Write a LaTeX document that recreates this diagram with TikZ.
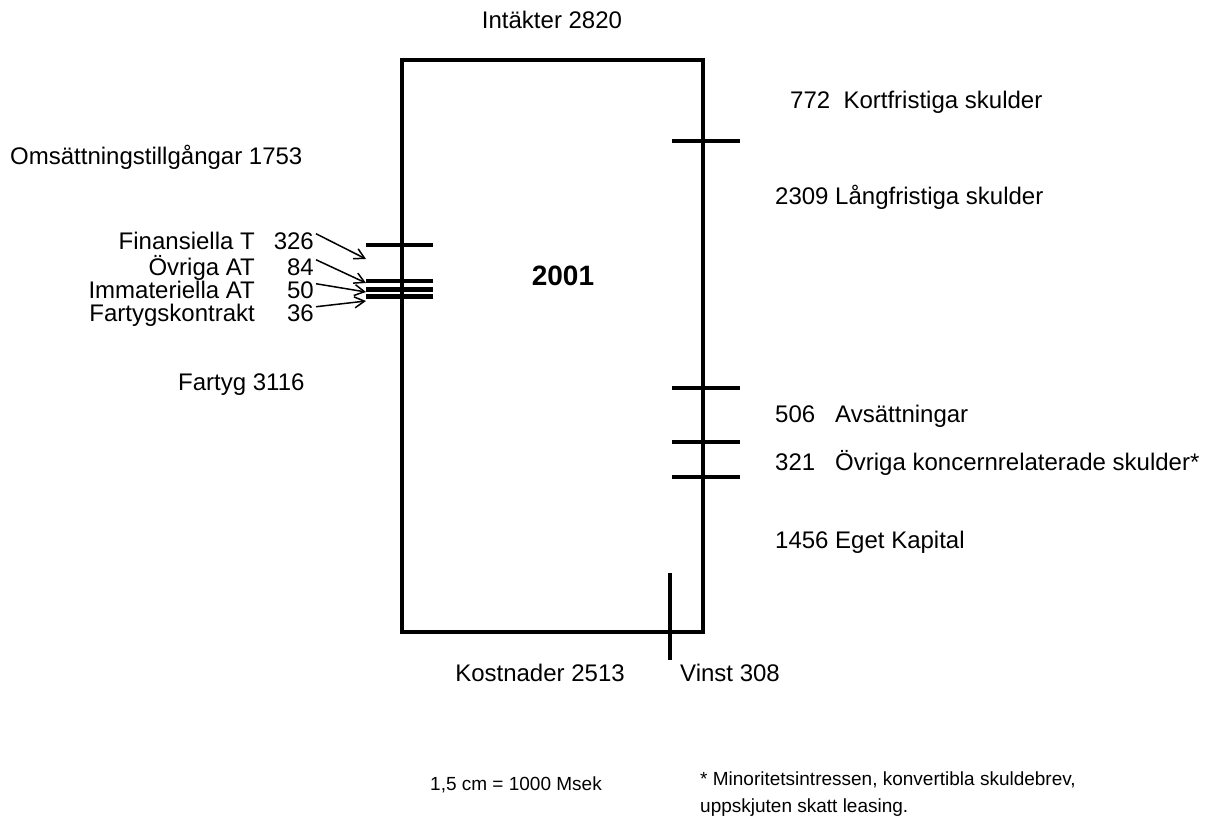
\documentclass[tikz,border=0pt]{standalone}
\usepackage{fontspec}
\setmainfont{Liberation Sans}
\usetikzlibrary{arrows.meta}
\begin{document}
\begin{tikzpicture}[x=1pt,y=-1pt,
  lbl/.style={inner sep=0pt, font=\fontsize{24}{28}\selectfont, anchor=base west},
  lble/.style={lbl, anchor=base east},
  small/.style={inner sep=0pt, font=\fontsize{19}{27}\selectfont, anchor=base west, align=left},
  bar/.style={line width=4pt},
  thin/.style={line width=1.5pt, -{Straight Barb[length=10pt,width=11pt]}}]
\useasboundingbox (0,0) rectangle (1221,818);
% box
\draw[bar] (402,60) rectangle (703,632);
% left ticks
\draw[bar] (366,245) -- (433,245);
\draw[bar] (366,281) -- (433,281);
\draw[bar, line width=5pt] (366,290) -- (433,290);
\draw[bar, line width=5pt] (366,297) -- (433,297);
% right ticks
\draw[bar] (672,141) -- (740,141);
\draw[bar] (672,388) -- (740,388);
\draw[bar] (672,442) -- (740,442);
\draw[bar] (672,477) -- (740,477);
% bottom tick
\draw[bar] (670,573) -- (670,660);
% labels
\node[lbl, anchor=base] (intak) at (552,29) {Intäkter 2820};
\node[lbl] (kort) at (790,109) {772\ \ Kortfristiga skulder};
\node[lbl] (oms) at (10,165) {Omsättningstillgångar 1753};
\node[lbl] (lang) at (775,205) {2309 Långfristiga skulder};
\node[inner sep=0pt, font=\fontsize{28}{32}\selectfont\bfseries] (year) at (563,276) {2001};
\node[lble] (n1) at (255,250) {Finansiella T};
\node[lble] (n2) at (255,276) {Övriga AT};
\node[lble] (n3) at (255,299) {Immateriella AT};
\node[lble] (n4) at (255,322) {Fartygskontrakt};
\node[lble] (v1) at (314,250) {326};
\node[lble] (v2) at (314,276) {84};
\node[lble] (v3) at (314,299) {50};
\node[lble] (v4) at (314,322) {36};
\node[lbl] (fartyg) at (178,390) {Fartyg 3116};
\node[lbl] (avs) at (775,422) {506\ \ \ Avsättningar};
\node[lbl] (ovr) at (775,470) {321\ \ \ Övriga koncernrelaterade skulder*};
\node[lbl] (eget) at (775,548) {1456 Eget Kapital};
\node[lbl, anchor=base] (kost) at (540,681) {Kostnader 2513};
\node[lbl] (vinst) at (680,681) {Vinst 308};
\node[small] (scale) at (430,790) {1,5 cm = 1000 Msek};
\node[small, anchor=north west] (note) at (700,772) {* Minoritetsintressen, konvertibla skuldebrev,\\uppskjuten skatt leasing.};
% arrows
\coordinate (t1) at (366,259);
\coordinate (t2) at (366,283);
\coordinate (t3) at (366,292);
\coordinate (t4) at (366,301);
\draw[thin] ([xshift=2pt]v1.east) ++(0,-8) -- (t1);
\draw[thin] ([xshift=2pt]v2.east) ++(0,-8) -- (t2);
\draw[thin] ([xshift=2pt]v3.east) ++(0,-7) -- (t3);
\draw[thin] ([xshift=2pt]v4.east) ++(0,-7) -- (t4);
\end{tikzpicture}
\end{document}
